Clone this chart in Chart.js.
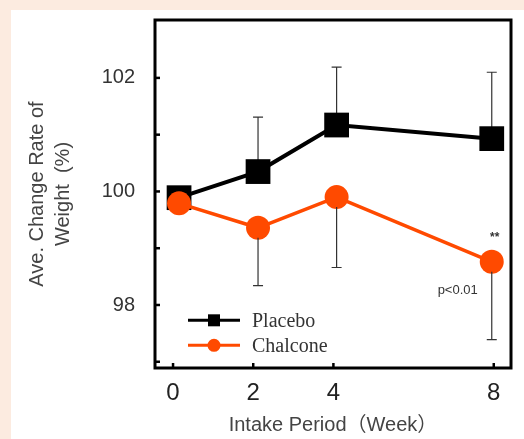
<!DOCTYPE html>
<html>
<head>
<meta charset="utf-8">
<script src="https://cdn.jsdelivr.net/npm/chart.js@4/dist/chart.umd.min.js"></script>
<style>
  html, body { margin: 0; padding: 0; background: #fcebe0; width: 524px; height: 439px; overflow: hidden; }
  #wrap { position: absolute; left: 11px; top: 10px; width: 513px; height: 429px; background: #ffffff; }
  canvas { display: block; }
</style>
</head>
<body>
<div id="wrap"><canvas id="c" width="513" height="429"></canvas></div>
<script>
// ---- data ----
// week positions of the plotted points (nominal weeks 0, 2, 4, 8)
const weeks = [0.15, 2.12, 4.08, 7.95];
const placeboMean = [99.89, 100.35, 101.17, 100.93];
const placeboUpper = [null, 101.31, 102.19, 102.10];   // top of SD bar
const chalconeMean = [99.79, 99.36, 99.90, 98.76];
const chalconeLower = [null, 98.34, 98.66, 97.39];   // bottom of SD bar
const yTickLabels = [98, 100, 102];
const xTickLabels = [0, 2, 4, 8];
const seriesNames = ['Placebo', 'Chalcone'];

const BLACK = '#000000';
const ORANGE = '#ff4a00';

const pts = (ys) => weeks.map((w, i) => ({ x: w, y: ys[i] }));

const decor = {
  id: 'decor',
  afterDatasetsDraw(chart) {
    const { ctx, scales: { x, y } } = chart;
    ctx.save();
    ctx.strokeStyle = '#333';
    ctx.lineWidth = 1.2;
    weeks.forEach((w, i) => {
      if (chalconeLower[i] == null) return;
      const px = x.getPixelForValue(w);
      const p0 = y.getPixelForValue(chalconeMean[i]) + 10, p1 = y.getPixelForValue(chalconeLower[i]);
      ctx.beginPath();
      ctx.moveTo(px, p0); ctx.lineTo(px, p1);
      ctx.moveTo(px - 5, p1); ctx.lineTo(px + 5, p1);
      ctx.stroke();
    });
    ctx.restore();
  },
  beforeDatasetsDraw(chart) {
    const { ctx, scales: { x, y } } = chart;
    ctx.save();
    ctx.strokeStyle = '#333';
    ctx.lineWidth = 1.2;
    weeks.forEach((w, i) => {
      if (placeboUpper[i] == null) return;
      const px = x.getPixelForValue(w);
      const p0 = y.getPixelForValue(placeboMean[i]), p1 = y.getPixelForValue(placeboUpper[i]);
      ctx.beginPath();
      ctx.moveTo(px, p0); ctx.lineTo(px, p1);
      ctx.moveTo(px - 5, p1); ctx.lineTo(px + 5, p1);
      ctx.stroke();
    });
    ctx.restore();
  },
  afterDraw(chart) {
    const { ctx, chartArea: a, scales: { x, y } } = chart;
    ctx.save();
    // frame
    ctx.strokeStyle = '#000';
    ctx.lineWidth = 3;
    ctx.strokeRect(a.left, a.top, a.right - a.left, a.bottom - a.top);
    // inward ticks
    ctx.lineWidth = 2.5;
    for (let v = 97; v <= 103; v++) {
      const py = y.getPixelForValue(v);
      if (py < a.top + 3 || py > a.bottom - 3) continue;
      ctx.beginPath(); ctx.moveTo(a.left, py); ctx.lineTo(a.left + 5, py); ctx.stroke();
    }
    xTickLabels.forEach(v => {
      const px = x.getPixelForValue(v);
      ctx.beginPath(); ctx.moveTo(px, a.bottom); ctx.lineTo(px, a.bottom - 5); ctx.stroke();
    });
    // legend
    const items = [
      { name: seriesNames[0], color: BLACK, style: 'rect', yv: 97.73 },
      { name: seriesNames[1], color: ORANGE, style: 'circle', yv: 97.29 }
    ];
    items.forEach(it => {
      const py = y.getPixelForValue(it.yv);
      const x0 = a.left + 33, x1 = a.left + 85, xm = (x0 + x1) / 2;
      ctx.strokeStyle = it.color; ctx.fillStyle = it.color; ctx.lineWidth = 3;
      ctx.beginPath(); ctx.moveTo(x0, py); ctx.lineTo(x1, py); ctx.stroke();
      if (it.style === 'rect') ctx.fillRect(xm - 6, py - 6, 12, 12);
      else { ctx.beginPath(); ctx.arc(xm, py, 6.5, 0, Math.PI * 2); ctx.fill(); }
      ctx.fillStyle = '#333';
      ctx.font = '20px "Liberation Serif", "Times New Roman", serif';
      ctx.textAlign = 'left'; ctx.textBaseline = 'middle';
      ctx.fillText(it.name, a.left + 97, py + 1);
    });
    // significance annotations
    const p8x = x.getPixelForValue(weeks[3]);
    ctx.fillStyle = '#333';
    ctx.font = 'bold 12px "Liberation Sans", Arial, sans-serif';
    ctx.textAlign = 'center'; ctx.textBaseline = 'middle';
    ctx.fillText('**', p8x + 3, y.getPixelForValue(chalconeMean[3]) - 24);
    ctx.font = '13px "Liberation Sans", Arial, sans-serif';
    ctx.textAlign = 'right';
    ctx.fillText('p<0.01', p8x - 14, y.getPixelForValue(chalconeMean[3]) + 29);
    ctx.restore();
  }
};

new Chart(document.getElementById('c'), {
  type: 'line',
  data: {
    datasets: [
      {
        label: seriesNames[1],
        data: pts(chalconeMean),
        borderColor: ORANGE, backgroundColor: ORANGE,
        borderWidth: 3.5, pointStyle: 'circle', pointRadius: 12, pointHoverRadius: 12,
        pointBorderWidth: 0, tension: 0, order: 1
      },
      {
        label: seriesNames[0],
        data: pts(placeboMean),
        borderColor: BLACK, backgroundColor: BLACK,
        borderWidth: 4, pointStyle: 'rect', pointRadius: 17.5, pointHoverRadius: 17.5,
        pointBorderWidth: 0, tension: 0, order: 2
      }
    ]
  },
  options: {
    responsive: false,
    animation: false,
    events: [],
    layout: { autoPadding: false, padding: { top: 10, right: 13, left: 0, bottom: 0 } },
    plugins: { legend: { display: false }, tooltip: { enabled: false } },
    scales: {
      x: {
        type: 'linear', min: -0.45, max: 8.43,
        afterBuildTicks(s) { s.ticks = xTickLabels.map(v => ({ value: v })); },
        afterFit(s) { s.height = 71; s.paddingLeft = 0; s.paddingRight = 0; },
        grid: { display: false, drawTicks: false },
        border: { display: false },
        ticks: { padding: 11, color: '#222', font: { family: '"Liberation Sans", Arial, sans-serif', size: 24 }, callback: v => String(v) },
        title: { display: true, text: 'Intake Period（Week）', color: '#444', padding: { top: 0, bottom: 2 },
                 font: { family: '"Liberation Sans", Arial, "Noto Sans CJK JP", sans-serif', size: 20 } }
      },
      y: {
        min: 96.89, max: 103.02,
        afterBuildTicks(s) { s.ticks = yTickLabels.map(v => ({ value: v })); },
        afterFit(s) { s.width = 144; s.paddingTop = 0; s.paddingBottom = 0; },
        grid: { display: false, drawTicks: false },
        border: { display: false },
        ticks: { padding: 20, color: '#333', font: { family: '"Liberation Sans", Arial, sans-serif', size: 20 } },
        title: { display: true, text: ['Ave. Change Rate of', 'Weight  (%)'], color: '#444', padding: { top: 13, bottom: 0 },
                 font: { family: '"Liberation Sans", Arial, sans-serif', size: 20, lineHeight: 1.3 } }
      }
    }
  },
  plugins: [decor]
});
</script>
</body>
</html>
